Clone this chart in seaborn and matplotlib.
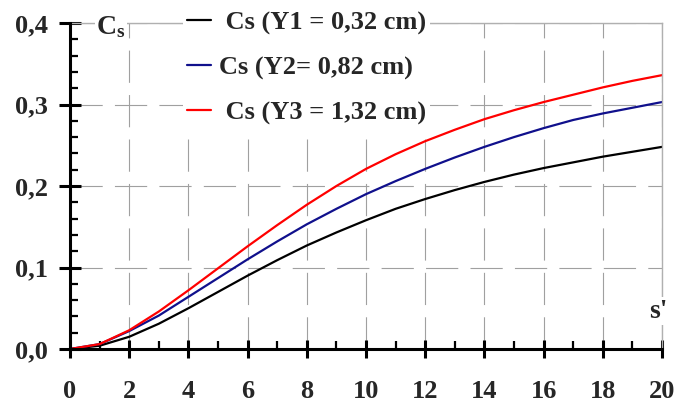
import numpy as np
import pandas as pd
import matplotlib
matplotlib.use("Agg")
import matplotlib.pyplot as plt
from matplotlib.ticker import FixedLocator, MultipleLocator
import seaborn as sns

# ---------- Data ----------
s_prime = [0, 1, 2, 3, 4, 5, 6, 7, 8, 9, 10, 11, 12, 13, 14, 15, 16, 17, 18, 19, 20]
cs_y1 = [0, 0.004, 0.015, 0.031, 0.050, 0.070, 0.090, 0.109, 0.127, 0.143, 0.158,
         0.172, 0.184, 0.195, 0.205, 0.214, 0.222, 0.229, 0.236, 0.242, 0.248]
cs_y2 = [0, 0.006, 0.022, 0.041, 0.064, 0.087, 0.110, 0.132, 0.153, 0.172, 0.190,
         0.206, 0.221, 0.235, 0.248, 0.260, 0.271, 0.281, 0.289, 0.296, 0.303]
cs_y3 = [0, 0.006, 0.023, 0.046, 0.072, 0.099, 0.126, 0.152, 0.177, 0.200, 0.221,
         0.239, 0.255, 0.269, 0.282, 0.293, 0.303, 0.312, 0.321, 0.329, 0.336]

series_labels = [" Cs (Y1 = 0,32 cm)", "Cs (Y2= 0,82 cm)", " Cs (Y3 = 1,32 cm)"]
series_colors = ["black", "#10108c", "#ff0000"]

x_ticks = [0, 2, 4, 6, 8, 10, 12, 14, 16, 18, 20]
x_tick_labels = ["0", "2", "4", "6", "8", "10", "12", "14", "16", "18", "20"]
y_ticks = [0.0, 0.1, 0.2, 0.3, 0.4]
y_tick_labels = ["0,0", "0,1", "0,2", "0,3", "0,4"]

df = pd.DataFrame({
    "s": s_prime * 3,
    "Cs": cs_y1 + cs_y2 + cs_y3,
    "serie": [series_labels[0]] * len(s_prime) + [series_labels[1]] * len(s_prime)
             + [series_labels[2]] * len(s_prime),
})

# ---------- Style ----------
sns.set_style("ticks")
plt.rcParams["font.family"] = ["Liberation Serif", "DejaVu Serif"]
plt.rcParams["font.weight"] = "bold"
plt.rcParams["mathtext.fontset"] = "custom"
plt.rcParams["mathtext.rm"] = "Liberation Serif:bold"
plt.rcParams["mathtext.bf"] = "Liberation Serif:bold"
plt.rcParams["mathtext.it"] = "Liberation Serif:bold"

W, H = 676, 405
fig = plt.figure(figsize=(W / 100, H / 100), dpi=100)
ax = fig.add_axes([70 / W, 1 - 349 / H, (662 - 70) / W, (349 - 23) / H])

sns.lineplot(data=df, x="s", y="Cs", hue="serie", palette=series_colors,
             linewidth=1.6, ax=ax, legend=False)

ax.set_xlim(0, 20)
ax.set_ylim(0, 0.4)
ax.set_xlabel("")
ax.set_ylabel("")

ax.xaxis.set_major_locator(FixedLocator(x_ticks))
ax.set_xticklabels(x_tick_labels)
ax.xaxis.set_minor_locator(MultipleLocator(1))
ax.yaxis.set_major_locator(FixedLocator(y_ticks))
ax.set_yticklabels(y_tick_labels)
ax.yaxis.set_minor_locator(MultipleLocator(0.02))

ax.tick_params(axis="both", which="major", direction="inout", width=2.2,
               color="black", labelsize=19)
ax.tick_params(axis="x", which="major", length=13, pad=16, bottom=True)
ax.tick_params(axis="y", which="major", length=16, pad=8, left=True)
ax.tick_params(axis="both", which="minor", direction="in", width=1.6, length=5.5,
               color="black")
ax.tick_params(axis="x", which="minor", bottom=True, top=False)
ax.tick_params(axis="y", which="minor", left=True, right=False)
for lab in ax.get_xticklabels() + ax.get_yticklabels():
    lab.set_fontweight("bold")

for side in ["left", "bottom"]:
    ax.spines[side].set_color("black")
    ax.spines[side].set_linewidth(2.2)
    ax.spines[side].set_zorder(5)
for side in ["top", "right"]:
    ax.spines[side].set_visible(True)
    ax.spines[side].set_color("#b0b0b0")
    ax.spines[side].set_linewidth(1.0)

ax.grid(True, which="major", color="#a0a0a0", linewidth=0.8, linestyle=(0, (29, 11)))
ax.set_axisbelow(True)

# ---------- Legend ----------
handles = ax.get_lines()[:3]
leg = fig.legend(handles, series_labels, loc="upper left",
                 bbox_to_anchor=(183 / W, 1 - 7 / H), bbox_transform=fig.transFigure,
                 frameon=True, fancybox=False, facecolor="white", edgecolor="none",
                 framealpha=1, fontsize=19, handlelength=0.9, handletextpad=0.3,
                 labelspacing=0.8, borderpad=0.15, borderaxespad=0)
for t in leg.get_texts():
    t.set_fontweight("bold")

# ---------- Axis labels inside the plot ----------
fig.text(96 / W, 1 - 27 / H, r"$\mathbf{C_s}$", fontsize=20, va="center", ha="left",
         bbox=dict(facecolor="white", edgecolor="none", pad=1))
fig.text(668 / W, 1 - 311 / H, "s'", fontsize=20, fontweight="bold", va="center",
         ha="right", bbox=dict(facecolor="white", edgecolor="none", pad=1))

fig.savefig("out.png", dpi=100)
